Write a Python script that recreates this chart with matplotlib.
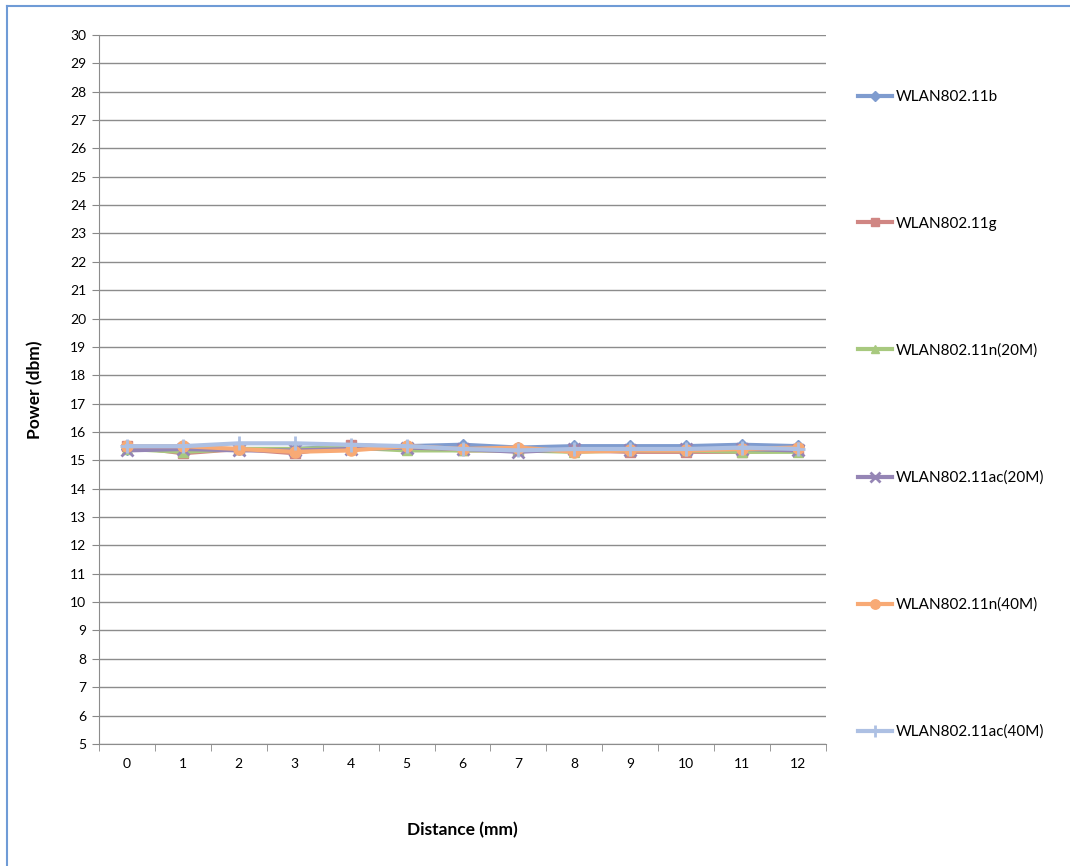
import matplotlib.pyplot as plt
from matplotlib.lines import Line2D

plt.rcParams['font.family'] = ['Lato', 'DejaVu Sans']

distance = list(range(13))
labels = ['WLAN802.11b', 'WLAN802.11g', 'WLAN802.11n(20M)',
          'WLAN802.11ac(20M)', 'WLAN802.11n(40M)', 'WLAN802.11ac(40M)']
b_11 = [15.40, 15.40, 15.40, 15.40, 15.50, 15.50, 15.55, 15.45, 15.50, 15.50, 15.50, 15.55, 15.50]
g_11 = [15.50, 15.25, 15.40, 15.25, 15.55, 15.45, 15.35, 15.35, 15.35, 15.30, 15.30, 15.30, 15.35]
n20 = [15.40, 15.30, 15.40, 15.40, 15.45, 15.35, 15.35, 15.35, 15.30, 15.35, 15.35, 15.30, 15.30]
ac20 = [15.35, 15.40, 15.35, 15.35, 15.40, 15.45, 15.40, 15.30, 15.40, 15.35, 15.40, 15.40, 15.35]
n40 = [15.50, 15.50, 15.40, 15.30, 15.35, 15.50, 15.40, 15.45, 15.30, 15.35, 15.35, 15.40, 15.45]
ac40 = [15.50, 15.50, 15.60, 15.60, 15.55, 15.50, 15.40, 15.35, 15.40, 15.40, 15.40, 15.45, 15.40]

series = [b_11, g_11, n20, ac20, n40, ac40]
colors = ['#7f9ccf', '#d08683', '#a8c97f', '#9585b5', '#f8aa75', '#adc0e3']
markers = ['D', 's', '^', 'x', 'o', '+']
msizes = [6, 7, 7, 8, 8, 10]

fig = plt.figure(figsize=(10.7, 8.66), dpi=100)
# chart-area border: only top and left edges are visible in the crop
fig.lines.append(Line2D([0.0065, 1.0], [0.9935, 0.9935], transform=fig.transFigure,
                        color='#6f9bd6', linewidth=1.5))
fig.lines.append(Line2D([0.0065, 0.0065], [0.0, 0.9935], transform=fig.transFigure,
                        color='#6f9bd6', linewidth=1.5))
ax = fig.add_axes([0.0925, 0.141, 0.6795, 0.8186])

for vals, lab, c, m, ms in zip(series, labels, colors, markers, msizes):
    ax.plot(distance, vals, color=c, marker=m, markersize=ms, linewidth=3,
            markeredgewidth=2 if m in ('x', '+') else 1, label=lab)

ax.set_xlim(-0.5, 12.5)
ax.set_ylim(5, 30)
ax.set_yticks(range(5, 31))
ax.set_xticks(distance)
ax.set_xticks([i - 0.5 for i in range(14)], minor=True)
ax.tick_params(axis='x', which='major', length=0, labelsize=10, pad=10)
ax.tick_params(axis='x', which='minor', length=5, color='#888888', direction='out')
ax.tick_params(axis='y', length=5, color='#888888', labelsize=10, pad=4)
ax.grid(axis='y', color='#8c8c8c', linewidth=1)
ax.set_axisbelow(True)
for s in ['top', 'right']:
    ax.spines[s].set_visible(False)
for s in ['left', 'bottom']:
    ax.spines[s].set_color('#8c8c8c')

fig.text(0.033, 0.55, 'Power (dbm)', rotation=90, ha='center', va='center',
         fontsize=12.5, fontweight='bold')
fig.text(0.432, 0.041, 'Distance (mm)', ha='center', va='center',
         fontsize=12.5, fontweight='bold')

leg = fig.legend(loc='upper left', bbox_to_anchor=(0.789, 0.912), frameon=False,
                 fontsize=11, labelspacing=7.38, handlelength=2.2, handletextpad=0.25)
for h in leg.legend_handles:
    h.set_markersize(h.get_markersize() * 0.85)

plt.savefig('out.png', dpi=100)
plt.close()
